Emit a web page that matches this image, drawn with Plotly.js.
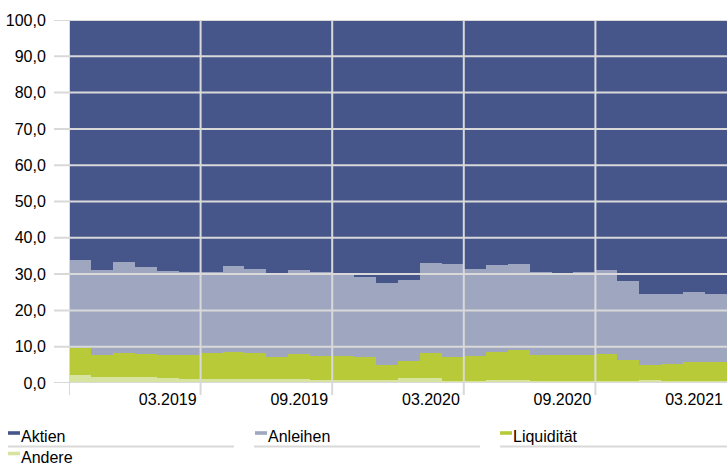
<!DOCTYPE html>
<html>
<head>
<meta charset="utf-8">
<script src="https://cdn.plot.ly/plotly-3.0.1.min.js"></script>
<style>html,body{margin:0;padding:0;background:#fff;}#chart{width:727px;height:466px;}</style>
</head>
<body>
<div id="chart"></div>
<script>
const months = ['11.2018','12.2018','01.2019','02.2019','03.2019','04.2019','05.2019','06.2019','07.2019','08.2019',
  '09.2019','10.2019','11.2019','12.2019','01.2020','02.2020','03.2020','04.2020','05.2020','06.2020',
  '07.2020','08.2020','09.2020','10.2020','11.2020','12.2020','01.2021','02.2021','03.2021','04.2021'];
const tickLabels = ['03.2019','09.2019','03.2020','09.2020','03.2021'];
const andere = [2.3,1.7,1.7,1.6,1.3,1.1,1.1,1.1,1.1,1.1,1.1,0.9,0.9,0.9,0.9,1.3,1.5,0.6,0.6,0.7,0.7,0.6,0.6,0.6,0.6,0.6,0.7,0.6,0.6,0.6];
const liquiditaet = [7.4,5.9,6.6,6.4,6.4,6.6,7.1,7.5,7.2,6.1,6.8,6.5,6.6,6.2,4.1,4.8,6.8,6.6,6.9,7.9,8.4,7.0,7.1,7.1,7.4,5.8,4.3,4.6,5.3,5.1];
const anleihen = [24.2,23.5,25.0,24.0,23.2,23.0,22.4,23.7,23.1,23.1,23.3,23.1,22.7,22.2,22.6,22.3,24.7,25.5,23.9,24.0,23.7,23.1,22.5,22.8,23.0,21.6,19.4,19.3,19.1,18.8];
const aktien = [66.1,68.9,66.7,68.0,69.1,69.3,69.4,67.7,68.6,69.7,68.8,69.5,69.8,70.7,72.4,71.6,67.0,67.3,68.6,67.4,67.2,69.3,69.8,69.5,69.0,72.0,75.6,75.5,75.0,75.5];
const yTicks = [0,10,20,30,40,50,60,70,80,90,100];
const seriesNames = ['Aktien','Anleihen','Liquidität','Andere'];
const colors = {Aktien:'#46568a', Anleihen:'#9fa6c0', 'Liquidität':'#b8ca38', Andere:'#d7e4a0'};

const stackOrder = [['Andere',andere],['Liquidität',liquiditaet],['Anleihen',anleihen],['Aktien',aktien]];
const traces = stackOrder.map(([name, vals]) => ({
  type:'bar', name:name, x:months, y:vals,
  marker:{color:colors[name], line:{width:0}},
  hoverinfo:'x+y+name', showlegend:false
}));

// layout geometry (pixels)
const W = 727, H = 466, L = 69, R = 0, T = 20, B = 83;
const pw = W - L - R, ph = H - T - B;
const px = v => (v - L) / pw;
const py = v => (H - B - v) / ph;
const grid = '#d9d9d9';
const font = 'Liberation Sans, Arial, sans-serif';

const shapes = [];
// horizontal gridlines above bars, extending left as tick marks
yTicks.forEach(v => shapes.push({type:'line', xref:'paper', yref:'y', x0:px(54), x1:1, y0:v, y1:v,
  line:{color:grid, width:2}, layer:'above'}));
// vertical gridlines at category boundaries every 6 months + left axis
[-0.5, 5.5, 11.5, 17.5, 23.5].forEach(b => shapes.push({type:'line', xref:'x', yref:'paper', x0:b, x1:b,
  y0:py(395), y1:1, line:{color:grid, width:2}, layer:'above'}));

// custom legend
const legendPos = [
  {name:'Aktien', sx:8, sy:433, tx:20, ty:436},
  {name:'Anleihen', sx:255, sy:433, tx:267, ty:436},
  {name:'Liquidität', sx:500, sy:433, tx:512, ty:436},
  {name:'Andere', sx:8, sy:453.5, tx:20, ty:457.5}
];
const annotations = [];
legendPos.forEach(p => {
  shapes.push({type:'rect', xref:'paper', yref:'paper', x0:px(p.sx), x1:px(p.sx+12), y0:py(p.sy-1.8), y1:py(p.sy+1.8),
    fillcolor:colors[p.name], line:{width:0}});
  annotations.push({xref:'paper', yref:'paper', x:px(p.tx), y:py(p.ty), text:p.name, showarrow:false,
    xanchor:'left', yanchor:'middle', font:{family:font, size:16, color:'#000'}, borderpad:0});
});
[[8,234],[254,480],[500,727]].forEach(([a,b]) => shapes.push({type:'line', xref:'paper', yref:'paper',
  x0:px(a), x1:px(b), y0:py(446.5), y1:py(446.5), line:{color:grid, width:2}}));

const layout = {
  width:W, height:H,
  margin:{l:L, r:R, t:T, b:B, pad:0},
  paper_bgcolor:'#fff', plot_bgcolor:'#fff',
  barmode:'stack', bargap:0,
  separators:',.',
  showlegend:false,
  font:{family:font, size:16, color:'#000'},
  xaxis:{type:'category', range:[-0.5, 29.5], tickmode:'array', tickvals:tickLabels, ticktext:tickLabels,
    showgrid:false, zeroline:false, showline:false, ticks:'outside', ticklen:2, tickcolor:'rgba(0,0,0,0)',
    tickfont:{family:font, size:16, color:'#000'}, fixedrange:true},
  yaxis:{range:[0,100], tickmode:'array', tickvals:yTicks, tickformat:'.1f',
    showgrid:false, zeroline:false, showline:false, ticks:'outside', ticklen:19, tickcolor:'rgba(0,0,0,0)',
    tickfont:{family:font, size:16, color:'#000'}, fixedrange:true},
  shapes:shapes,
  annotations:annotations
};
Plotly.newPlot('chart', traces, layout, {displayModeBar:false, staticPlot:true});
</script>
</body>
</html>
